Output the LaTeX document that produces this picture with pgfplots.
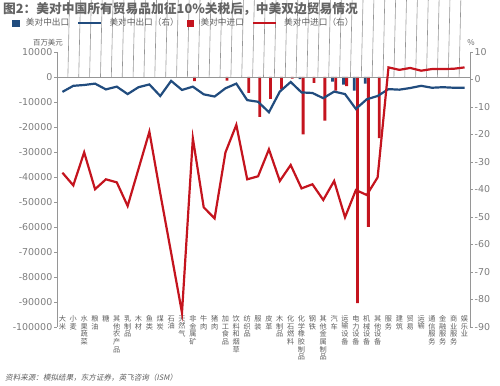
\documentclass[border=0pt]{standalone}
\usepackage{pgfplots}
\pgfplotsset{compat=1.18}
\usepackage{fontspec}
\setmainfont{Noto Sans CJK SC}
\newfontfamily\num{DejaVu Sans}
\newfontfamily\cjkit{Noto Sans CJK SC}[FakeSlant=0.2]
\definecolor{myblue}{RGB}{33,76,126}
\definecolor{myred}{RGB}{196,20,30}
\definecolor{axgray}{RGB}{150,150,150}
\definecolor{numgray}{RGB}{125,125,125}
\definecolor{txtgray}{RGB}{95,95,95}
\definecolor{titlegray}{RGB}{100,100,100}
\begin{document}
\begin{tikzpicture}
\path[use as bounding box] (0bp,0bp) rectangle (500bp,386bp);

\begin{axis}[
 at={(57bp,59bp)}, anchor=south west,
 scale only axis, width=413bp, height=275bp,
 xmin=-0.5, xmax=37.5, ymin=-100000, ymax=10000,
 axis x line=none, axis y line*=left,
 y axis line style={axgray, line width=0.8bp},
 ytick={-100000,-90000,...,10000},
 tick align=outside, major tick length=2.5bp,
 ytick style={axgray, line width=0.8bp},
 yticklabel style={font=\num\fontsize{9.5}{10}\selectfont, text=numgray, inner sep=0pt, xshift=-2bp,
   /pgf/number format/.cd, fixed, 1000 sep={}, assume math mode=true},
 scaled y ticks=false,
 clip=false,
]
\addplot[ybar, bar width=2.8bp, bar shift=-1.6bp, fill=myblue, draw=none]
 coordinates {(22,-900)(25,-1900)(26,-3100)(27,-5500)(28,-2700)};
\addplot[ybar, bar width=2.8bp, bar shift=1.6bp, fill=myred, draw=none]
 coordinates {(12,-1700)(15,-1500)(17,-6400)(18,-16000)(19,-8800)(20,-5000)(21,-700)(22,-23000)(23,-2400)(24,-17500)(25,-5500)(26,-3700)(27,-90500)(28,-60000)(29,-24500)};
\draw[axgray, line width=0.8bp] (axis cs:-0.5,0) -- (axis cs:37.5,0);
\pgfplotsinvokeforeach{0.5,1.5,...,36.5}{\draw[axgray, line width=0.6bp] (axis cs:#1,0) -- ++(0,-2.5bp);}
\end{axis}

\begin{axis}[
 at={(57bp,59bp)}, anchor=south west,
 scale only axis, width=413bp, height=275bp,
 xmin=-0.5, xmax=37.5, ymin=-90, ymax=10,
 axis y line*=right, axis x line*=bottom,
 x axis line style={draw=none},
 y axis line style={axgray, line width=0.8bp},
 ytick={-90,-80,...,10},
 xtick={0,...,37},
 xticklabels={{大\\米},{小\\麦},{水\\果\\蔬\\菜},{粮\\油},{糖},{其\\他\\农\\产\\品},{乳\\制\\品},{木\\材},{鱼\\类},{煤\\炭},{石\\油},{天\\然\\气},{非\\金\\属\\矿},{牛\\肉},{猪\\肉},{加\\工\\食\\品},{饮\\料\\和\\烟\\草},{纺\\织\\品},{服\\装},{皮\\革},{木\\制\\品},{化\\石\\燃\\料},{化\\学\\橡\\胶\\制\\品},{钢\\铁},{其\\他\\金\\属\\制\\品},{汽\\车},{运\\输\\设\\备},{电\\力\\设\\备},{机\\械\\设\\备},{其\\他\\设\\备},{服\\务},{建\\筑},{贸\\易},{运\\输},{通\\信\\服\\务},{金\\融\\服\\务},{商\\业\\服\\务},{娱\\乐\\业}},
 xtick style={draw=none},
 xticklabel style={font=\fontsize{7.2}{7.6}\selectfont, text=txtgray, align=center, anchor=north, inner sep=0pt, yshift=14bp},
 tick align=outside, major tick length=2.5bp,
 ytick style={axgray, line width=0.8bp},
 yticklabel style={font=\num\fontsize{9.5}{10}\selectfont, text=numgray, inner sep=0pt, xshift=2bp,
   /pgf/number format/.cd, fixed, assume math mode=true},
 clip=false,
 legend columns=4,
 legend style={at={(axis description cs:-0.109,1.1055)}, anchor=west, draw=none, fill=none, inner sep=0pt,
   nodes={inner sep=0pt},
   font=\fontsize{8.7}{10}\selectfont, text=txtgray,
   /tikz/every odd column/.append style={column sep=7bp},
   /tikz/every even column/.append style={column sep=8bp}},
 legend cell align=left,
]
\addlegendimage{legend image code/.code={\fill[myblue] (0bp,-3.2bp) rectangle (6.4bp,3.2bp);}}
\addlegendentry{美对中出口}
\addplot[myblue, line width=2.2bp, legend image code/.code={\draw[myblue, line width=2.2bp] (0bp,0bp) -- (23bp,0bp);}]
 coordinates {(0,-4.5)(1,-2.3)(2,-2.0)(3,-1.5)(4,-3.6)(5,-2.6)(6,-5.3)(7,-2.8)(8,-1.8)(9,-6.0)(10,-0.5)(11,-3.8)(12,-2.6)(13,-5.4)(14,-6.2)(15,-3.2)(16,-1.5)(17,-7.5)(18,-8.1)(19,-11.9)(20,-4.4)(21,-0.9)(22,-4.7)(23,-4.9)(24,-6.8)(25,-4.4)(26,-5.3)(27,-10.7)(28,-7.2)(29,-6.0)(30,-3.5)(31,-3.7)(32,-3.1)(33,-2.3)(34,-3.0)(35,-2.8)(36,-3.0)(37,-3.0)};
\addlegendentry{美对中出口（右）}
\addlegendimage{legend image code/.code={\fill[myred] (0bp,-3.2bp) rectangle (6.4bp,3.2bp);}}
\addlegendentry{美对中进口}
\addplot[myred, line width=2.2bp, legend image code/.code={\draw[myred, line width=2.2bp] (0bp,0bp) -- (23bp,0bp);}]
 coordinates {(0,-33.9)(1,-38.5)(2,-26.5)(3,-39.9)(4,-36.3)(5,-37.4)(6,-46.0)(7,-32.5)(8,-19.0)(9,-41.4)(10,-63.0)(11,-84.8)(12,-21.4)(13,-46.5)(14,-50.5)(15,-26.5)(16,-16.5)(17,-36.3)(18,-35.2)(19,-25.4)(20,-36.9)(21,-31.1)(22,-39.6)(23,-38.1)(24,-43.8)(25,-36.9)(26,-50.1)(27,-40.2)(28,-42.0)(29,-35.6)(30,4.4)(31,3.5)(32,4.2)(33,3.2)(34,3.8)(35,3.8)(36,3.9)(37,4.4)};
\addlegendentry{美对中进口（右）}
\end{axis}

\node[anchor=west, inner sep=0pt, text=titlegray, font=\bfseries\fontsize{12.8}{14}\selectfont] at (3bp,377bp) {图2：美对中国所有贸易品加征10\%关税后，中美双边贸易情况};
\node[text=txtgray, font=\fontsize{7.5}{8}\selectfont, inner sep=0pt] at (48bp,343bp) {百万美元};
\node[text=txtgray, font=\fontsize{8}{8}\selectfont, inner sep=0pt] at (471bp,343bp) {\%};
\node[anchor=west, inner sep=0pt, text=txtgray, font=\cjkit\fontsize{7.6}{8}\selectfont] at (5bp,8bp) {资料来源：模拟结果，东方证券，英飞咨询（ISM）};
\end{tikzpicture}
\end{document}
